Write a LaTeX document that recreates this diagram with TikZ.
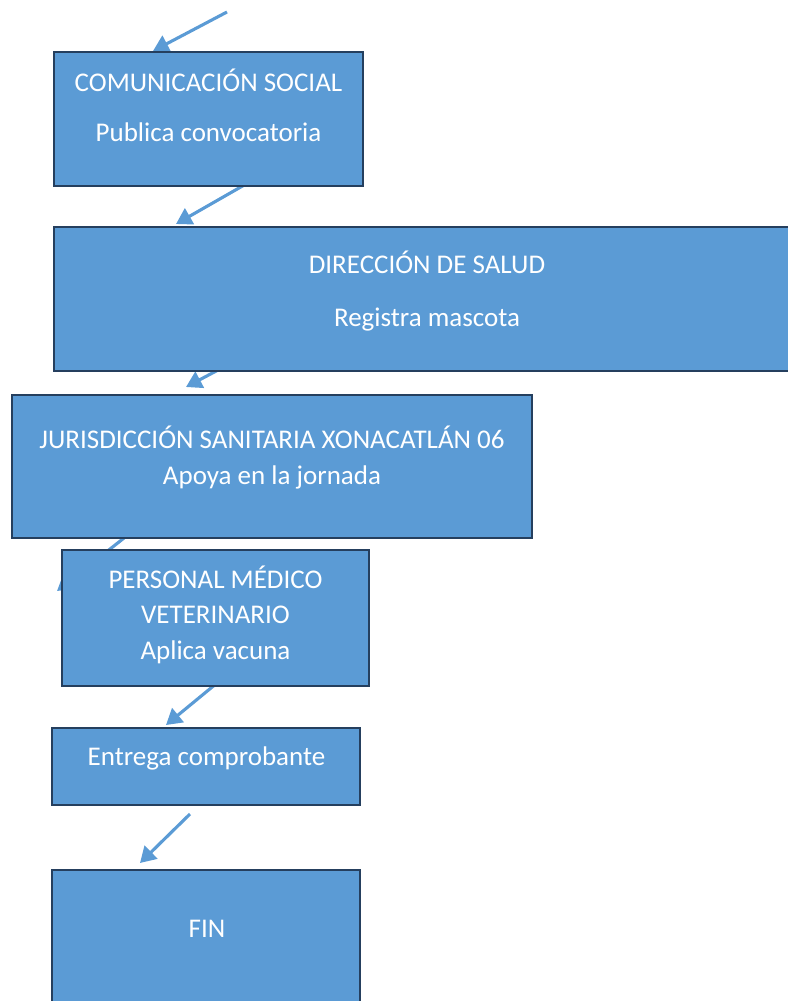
\documentclass[tikz,border=0pt]{standalone}
\usepackage{fontspec}
\setmainfont{Carlito}
\usetikzlibrary{arrows.meta}
\usetikzlibrary{fit}
\definecolor{cajaazul}{HTML}{5B9BD5}
\definecolor{bordeazul}{HTML}{253F5E}
\begin{document}
\begin{tikzpicture}[x=0.4167pt, y=-0.4167pt]
    \tikzstyle{caja}=[draw=bordeazul, fill=cajaazul, line width=0.9pt, inner sep=0pt]
    \tikzstyle{texto}=[text=white, align=center, anchor=base, font=\fontsize{11.25}{14.7}\selectfont]
    \tikzstyle{flecha}=[draw=cajaazul, line width=1.3pt, -{Triangle[length=6.5pt, width=7.5pt]}]
    \useasboundingbox (0,0) rectangle (788,1001);

    % Flechas
    \coordinate (f0a) at (227,12);
    \coordinate (f0b) at (153,51);
    \coordinate (f1a) at (246,184);
    \coordinate (f1b) at (176,224);
    \coordinate (f2a) at (220,369);
    \coordinate (f2b) at (186,387);
    \coordinate (f3a) at (124,538);
    \coordinate (f3b) at (57,591);
    \coordinate (f4a) at (217,683);
    \coordinate (f4b) at (166,725);
    \coordinate (f5a) at (190,814);
    \coordinate (f5b) at (140,863);
    \draw[flecha] (f0a) -- (f0b);
    \draw[flecha] (f1a) -- (f1b);
    \draw[flecha] (f2a) -- (f2b);
    \draw[flecha] (f3a) -- (f3b);
    \draw[flecha] (f4a) -- (f4b);
    \draw[flecha] (f5a) -- (f5b);

    % Comunicacion Social
    \node[caja, fit={(54,52) (363,186)}] (cs) {};
    \node[texto] (cs-t) at (208.5,142) {COMUNICACIÓN SOCIAL\\[6.3pt]Publica convocatoria};

    % Direccion de Salud
    \node[caja, fit={(54,227) (800,371)}] (ds) {};
    \node[texto] (ds-t) at (427,326) {DIRECCIÓN DE SALUD\\[7pt]Registra mascota};

    % Jurisdiccion Sanitaria
    \node[caja, fit={(12,395) (532,538)}] (js) {};
    \node[texto] (js-t) at (272,484) {JURISDICCIÓN SANITARIA XONACATLÁN 06\\Apoya en la jornada};

    % Personal medico
    \node[caja, fit={(62,550) (369,686)}] (pm) {};
    \node[texto] (pm-t) at (215.5,659) {PERSONAL MÉDICO\\VETERINARIO\\Aplica vacuna};

    % Comprobante
    \node[caja, fit={(52,728) (360,805)}] (ec) {};
    \node[texto] (ec-t) at (206.5,765) {Entrega comprobante};

    % Fin
    \node[caja, fit={(52,870) (360,1010)}] (fin) {};
    \node[texto] (fin-t) at (207,937) {FIN};
\end{tikzpicture}
\end{document}
